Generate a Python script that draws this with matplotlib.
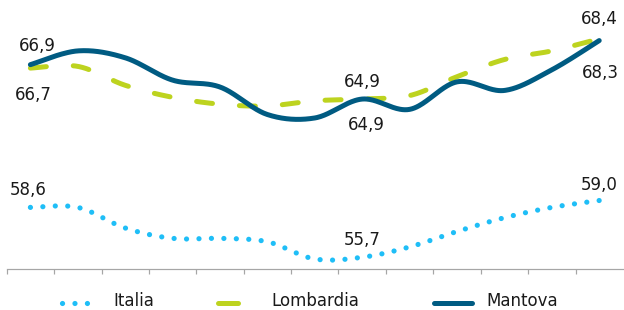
import numpy as np
import matplotlib
matplotlib.use("Agg")
import matplotlib.pyplot as plt
from matplotlib.lines import Line2D

# ---- data ----
series_names = ["Italia", "Lombardia", "Mantova"]
italia = [58.6, 58.6, 57.4, 56.8, 56.8, 56.6, 55.6, 55.7, 56.3, 57.2, 58.0, 58.6, 59.0]
lombardia = [66.7, 66.8, 65.7, 65.0, 64.6, 64.5, 64.8, 64.9, 65.1, 66.2, 67.2, 67.7, 68.4]
mantova = [66.9, 67.7, 67.3, 66.0, 65.6, 64.0, 63.8, 64.9, 64.3, 65.9, 65.4, 66.6, 68.3]

# labelled points: (series, index, text)
labels = [
    ("Mantova", 0, "66,9"), ("Lombardia", 0, "66,7"),
    ("Lombardia", 7, "64,9"), ("Mantova", 7, "64,9"),
    ("Mantova", 12, "68,3"), ("Lombardia", 12, "68,4"),
    ("Italia", 0, "58,6"), ("Italia", 7, "55,7"), ("Italia", 12, "59,0"),
]
# label offsets in pixels (dx, dy up) -- styling
label_offsets = [(7, 14), (3, -32), (0, 12.4), (4, -31), (1, -37.7), (0, 15),
                 (-2, 12.4), (0, 12.2), (0, 10.5)]

W, H = 624, 310
DPI = 100
PX = 72.0 / DPI  # points per pixel

c_ital = "#1FBEF7"
c_lomb = "#BDD31F"
c_mant = "#005B82"


def smooth(y, n=40):
    """Excel-like smoothed curve (Bezier with Catmull-Rom control points)."""
    y = np.asarray(y, float)
    x = np.arange(len(y), dtype=float)
    pts = np.column_stack([x, y])
    out = []
    N = len(pts)
    for i in range(N - 1):
        p0 = pts[i - 1] if i > 0 else pts[i]
        p1 = pts[i]
        p2 = pts[i + 1]
        p3 = pts[i + 2] if i + 2 < N else pts[i + 1]
        c1 = p1 + (p2 - p0) / 6.0
        c2 = p2 - (p3 - p1) / 6.0
        t = np.linspace(0, 1, n, endpoint=(i == N - 2))[:, None]
        b = ((1 - t) ** 3) * p1 + 3 * ((1 - t) ** 2) * t * c1 + 3 * (1 - t) * t ** 2 * c2 + t ** 3 * p2
        out.append(b)
    out = np.vstack(out)
    return out[:, 0], out[:, 1]


plt.rcParams['font.family'] = ['DejaVu Sans']
fig = plt.figure(figsize=(W / DPI, H / DPI), dpi=DPI)

ax_left = 6.7
ax_width = 47.4 * 13
ax_bottom_px = 269.3
ax = fig.add_axes([ax_left / W, (H - ax_bottom_px) / H, ax_width / W, ax_bottom_px / H])
ax.set_xlim(-0.5, 12.5)
ax.set_ylim(55.0, 70.66)

lw = 5 * PX
dot = 5.2
styles = {
    "Italia": dict(color=c_ital, lw=dot * PX, linestyle=(0, (0.01, 12.4 / dot)),
                   dash_capstyle="round", solid_capstyle="round"),
    "Lombardia": dict(color=c_lomb, lw=lw, linestyle=(0, (16 / 5.0, 27 / 5.0)),
                      dash_capstyle="round", solid_capstyle="round"),
    "Mantova": dict(color=c_mant, lw=lw, linestyle="-", solid_capstyle="round"),
}
data = {"Italia": italia, "Lombardia": lombardia, "Mantova": mantova}

for name in ["Italia", "Lombardia", "Mantova"]:
    xs, ys = smooth(data[name])
    ax.plot(xs, ys, **styles[name])

for (name, idx, txt), (dx, dy) in zip(labels, label_offsets):
    ax.annotate(txt, (idx, data[name][idx]), xytext=(dx, dy), textcoords="offset pixels",
                ha="center", va="baseline", fontsize=12, color="#1a1a1a")

for s in ["top", "left", "right"]:
    ax.spines[s].set_visible(False)
ax.spines["bottom"].set_color("#A6A6A6")
ax.spines["bottom"].set_linewidth(1.2 * PX)
ax.set_yticks([])
ax.set_xticks(np.arange(-0.5, 12.0, 1.0))
ax.tick_params(axis="x", direction="out", length=5 * PX, width=1.2 * PX, color="#A6A6A6",
               labelbottom=False)

# ---- legend (manual) ----
ly = (H - 303.3) / H
ty = (H - 305.5) / H
leg_items = [
    ("Italia", 62, 88, 113),
    ("Lombardia", 217.5, 238.5, 271),
    ("Mantova", 434, 472, 486),
]
for name, x0, x1, tx in leg_items:
    st = dict(styles[name])
    if name == "Lombardia":
        st["linestyle"] = "-"
    fig.add_artist(Line2D([x0 / W, x1 / W], [ly, ly], transform=fig.transFigure, **st))
    fig.text(tx / W, ty, name, ha="left", va="baseline", fontsize=12, color="#1a1a1a")

fig.savefig("out.png", dpi=DPI)
